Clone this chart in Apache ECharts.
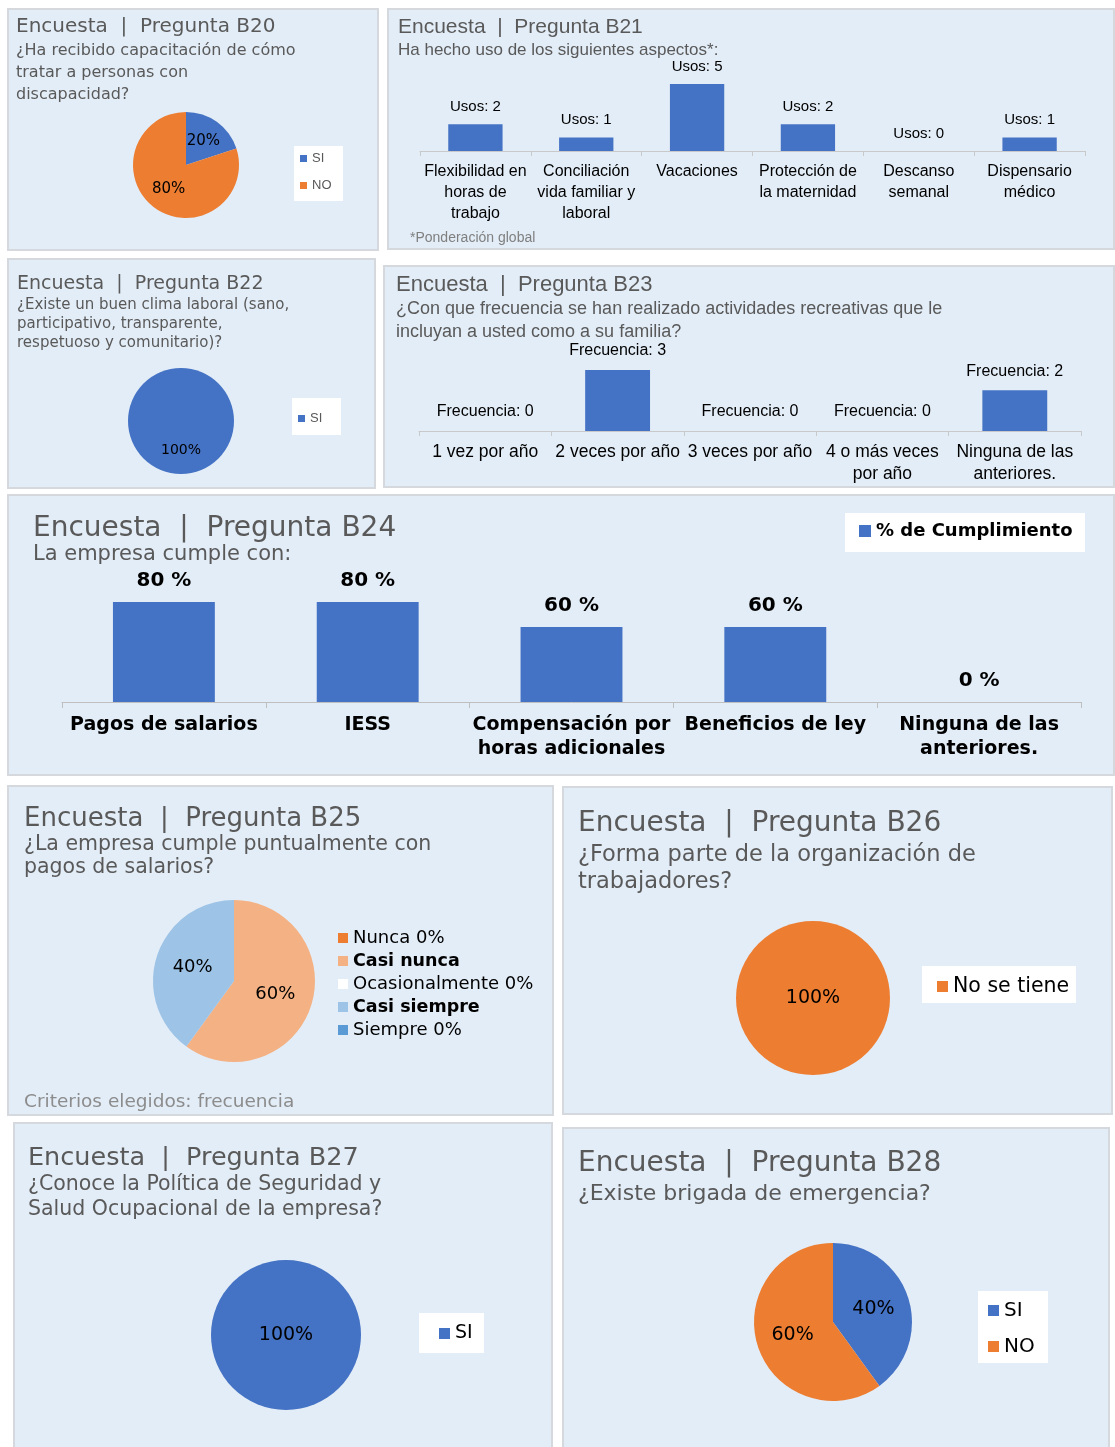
<!DOCTYPE html>
<html>
<head>
<meta charset="utf-8">
<script src="https://cdn.jsdelivr.net/npm/echarts@6/dist/echarts.min.js"></script>
<style>
  html, body { margin: 0; padding: 0; background: #ffffff; }
  body { width: 1115px; height: 1447px; position: relative; overflow: hidden; }
  .panel { position: absolute; box-sizing: border-box; border: 2px solid #d5d8dc; background: #e3edf7; }
</style>
</head>
<body>
<div id="b20" class="panel" style="left:7px;top:8px;width:372px;height:243px"></div>
<div id="b21" class="panel" style="left:387px;top:8px;width:728px;height:242px"></div>
<div id="b22" class="panel" style="left:7px;top:258px;width:369px;height:231px"></div>
<div id="b23" class="panel" style="left:383px;top:265px;width:732px;height:223px"></div>
<div id="b24" class="panel" style="left:7px;top:494px;width:1108px;height:282px"></div>
<div id="b25" class="panel" style="left:7px;top:785px;width:547px;height:331px"></div>
<div id="b26" class="panel" style="left:562px;top:786px;width:551px;height:329px"></div>
<div id="b27" class="panel" style="left:13px;top:1122px;width:540px;height:327px"></div>
<div id="b28" class="panel" style="left:562px;top:1127px;width:548px;height:322px"></div>
<script>
// ---------------- DATA ----------------
const b20Cats = ['SI', 'NO'];
const b20Vals = [20, 80];

const b21Cats = ['Flexibilidad en\nhoras de\ntrabajo', 'Conciliación\nvida familiar y\nlaboral', 'Vacaciones', 'Protección de\nla maternidad', 'Descanso\nsemanal', 'Dispensario\nmédico'];
const b21Vals = [2, 1, 5, 2, 0, 1];

const b22Cats = ['SI'];
const b22Vals = [100];

const b23Cats = ['1 vez por año', '2 veces por año', '3 veces por año', '4 o más veces\npor año', 'Ninguna de las\nanteriores.'];
const b23Vals = [0, 3, 0, 0, 2];

const b24Cats = ['Pagos de salarios', 'IESS', 'Compensación por\nhoras adicionales', 'Beneficios de ley', 'Ninguna de las\nanteriores.'];
const b24Vals = [80, 80, 60, 60, 0];
const b24SeriesName = '% de Cumplimiento';

const b25Cats = ['Nunca', 'Casi nunca', 'Ocasionalmente', 'Casi siempre', 'Siempre'];
const b25Vals = [0, 60, 0, 40, 0];

const b26Cats = ['No se tiene'];
const b26Vals = [100];

const b27Cats = ['SI'];
const b27Vals = [100];

const b28Cats = ['SI', 'NO'];
const b28Vals = [40, 60];

// ---------------- STYLE ----------------
const BLUE = '#4472c4', ORANGE = '#ed7d31';
const GEO = '"DejaVu Sans", sans-serif';
const NAR = '"Liberation Sans", Arial, sans-serif';
const GRAY = '#595959';

// cy = vertical centre of the first line
function txt(text, left, cy, size, lh, font, color, weight) {
  return {
    text: text, left: left, top: cy - lh / 2, padding: 0,
    textStyle: { fontFamily: font, fontSize: size, lineHeight: lh, color: color || GRAY, fontWeight: weight || 'normal' }
  };
}
function box(left, top, w, h) {
  return { type: 'rect', left: left, top: top, shape: { width: w, height: h }, style: { fill: '#ffffff' }, z: -1 };
}
function pieSeries(cats, vals, colors, cx, cy, r, font, fsize, pos) {
  return {
    type: 'pie', center: [cx, cy], radius: r, startAngle: 90, clockwise: true,
    animation: false, silent: true,
    data: cats.map((c, i) => ({ name: c, value: vals[i], itemStyle: { color: colors[i] } })),
    label: {
      show: true, position: pos || 'inside', color: '#000', fontFamily: font, fontSize: fsize,
      formatter: p => p.value === 0 ? '' : p.percent + '%'
    },
    labelLine: { show: false },
    itemStyle: { borderWidth: 0 }
  };
}
function mk(id, opt) {
  const el = document.getElementById(id);
  const c = echarts.init(el, null, { renderer: 'canvas' });
  opt.animation = false;
  c.setOption(opt);
  return c;
}

// ---------------- B20 ----------------
mk('b20', {
  title: [
    txt('Encuesta  |  Pregunta B20', 7, 17, 20, 24, GEO),
    txt('¿Ha recibido capacitación de cómo\ntratar a personas con\ndiscapacidad?', 7, 41, 16, 22, GEO)
  ],
  graphic: [box(285, 136, 49, 55)],
  legend: {
    orient: 'vertical', left: 291, top: 142, itemWidth: 7, itemHeight: 7, itemGap: 14,
    icon: 'rect', textStyle: { fontFamily: NAR, fontSize: 13, color: GRAY }, data: b20Cats, padding: 0
  },
  series: [pieSeries(b20Cats, b20Vals, [BLUE, ORANGE], 177, 155, 53, GEO, 15)]
});

// ---------------- B21 ----------------
mk('b21', {
  title: [
    txt('Encuesta  |  Pregunta B21', 9, 17, 21, 24, NAR),
    txt('Ha hecho uso de los siguientes aspectos*:', 9, 40, 17, 20, NAR),
    txt('*Ponderación global', 21, 228, 14, 18, NAR, '#7f7f7f')
  ],
  grid: { left: 31, top: 74, width: 665, height: 67 },
  xAxis: {
    type: 'category', data: b21Cats,
    axisLine: { lineStyle: { color: '#c9c9c9', width: 1 } },
    axisTick: { show: true, length: 5, lineStyle: { color: '#c9c9c9' } },
    axisLabel: { interval: 0, margin: 10, fontFamily: NAR, fontSize: 16, lineHeight: 21, color: '#000' }
  },
  yAxis: { type: 'value', min: 0, max: 5, show: false, splitLine: { show: false } },
  series: [{
    type: 'bar', data: b21Vals, barWidth: '49%', itemStyle: { color: BLUE },
    label: { show: true, position: 'top', distance: 10, formatter: 'Usos: {c}', fontFamily: NAR, fontSize: 15, color: '#000' }
  }]
});

// ---------------- B22 ----------------
mk('b22', {
  title: [
    txt('Encuesta  |  Pregunta B22', 8, 24, 19, 24, GEO),
    txt('¿Existe un buen clima laboral (sano,\nparticipativo, transparente,\nrespetuoso y comunitario)?', 8, 45, 15, 19, GEO)
  ],
  graphic: [box(283, 138, 49, 37)],
  legend: {
    orient: 'vertical', left: 289, top: 152, itemWidth: 7, itemHeight: 7,
    icon: 'rect', textStyle: { fontFamily: NAR, fontSize: 13, color: GRAY }, data: b22Cats, padding: 0
  },
  series: [pieSeries(b22Cats, b22Vals, [BLUE], 172, 161, 53, GEO, 14)]
});

// ---------------- B23 ----------------
mk('b23', {
  title: [
    txt('Encuesta  |  Pregunta B23', 11, 18, 22, 24, NAR),
    txt('¿Con que frecuencia se han realizado actividades recreativas que le\nincluyan a usted como a su familia?', 11, 42, 18, 23, NAR)
  ],
  grid: { left: 34, top: 103, width: 662, height: 61 },
  xAxis: {
    type: 'category', data: b23Cats,
    axisLine: { lineStyle: { color: '#c9c9c9', width: 1 } },
    axisTick: { show: true, length: 5, lineStyle: { color: '#c9c9c9' } },
    axisLabel: { interval: 0, margin: 10, fontFamily: NAR, fontSize: 17.5, lineHeight: 22, color: '#000' }
  },
  yAxis: { type: 'value', min: 0, max: 3, show: false, splitLine: { show: false } },
  series: [{
    type: 'bar', data: b23Vals, barWidth: '49%', itemStyle: { color: BLUE },
    label: { show: true, position: 'top', distance: 11, formatter: 'Frecuencia: {c}', fontFamily: NAR, fontSize: 16, color: '#000' }
  }]
});

// ---------------- B24 ----------------
mk('b24', {
  title: [
    txt('Encuesta  |  Pregunta B24', 24, 33, 28, 32, GEO),
    txt('La empresa cumple con:', 24, 59, 21, 24, GEO)
  ],
  graphic: [box(836, 17, 240, 39)],
  legend: {
    left: 850, top: 26, itemWidth: 12, itemHeight: 12, icon: 'rect', padding: 0,
    textStyle: { fontFamily: GEO, fontSize: 18, color: '#000', fontWeight: 'bold' },
    data: [b24SeriesName]
  },
  grid: { left: 53, top: 81, width: 1019, height: 125 },
  xAxis: {
    type: 'category', data: b24Cats,
    axisLine: { lineStyle: { color: '#bfbfbf', width: 1 } },
    axisTick: { show: true, length: 6, lineStyle: { color: '#bfbfbf' } },
    axisLabel: { interval: 0, margin: 11, fontFamily: GEO, fontSize: 19, lineHeight: 24, color: '#000', fontWeight: 'bold' }
  },
  yAxis: { type: 'value', min: 0, max: 100, show: false, splitLine: { show: false } },
  series: [{
    name: b24SeriesName, type: 'bar', data: b24Vals, barWidth: '50%', itemStyle: { color: BLUE },
    label: { show: true, position: 'top', distance: 11, formatter: '{c} %', fontFamily: GEO, fontSize: 20, color: '#000', fontWeight: 'bold' }
  }]
});

// ---------------- B25 ----------------
const b25Colors = ['#ed7d31', '#f4b183', '#ffffff', '#9dc3e6', '#5b9bd5'];
mk('b25', {
  title: [
    txt('Encuesta  |  Pregunta B25', 15, 32, 26, 30, GEO),
    txt('¿La empresa cumple puntualmente con\npagos de salarios?', 15, 58, 20.5, 23, GEO),
    txt('Criterios elegidos: frecuencia', 15, 315, 18.5, 22, GEO, '#8c8c8c')
  ],
  legend: {
    orient: 'vertical', left: 329, top: 142, itemWidth: 10, itemHeight: 10, itemGap: 5, icon: 'rect', padding: 0,
    data: b25Cats,
    formatter: function (name) {
      const v = b25Vals[b25Cats.indexOf(name)];
      return v === 0 ? '{n|' + name + ' 0%}' : '{b|' + name + '}';
    },
    textStyle: {
      fontFamily: GEO, fontSize: 18, color: '#000', lineHeight: 18,
      rich: { n: { fontFamily: GEO, fontSize: 18, color: '#000', lineHeight: 18 }, b: { fontFamily: GEO, fontSize: 17.5, color: '#000', fontWeight: 'bold', lineHeight: 18 } }
    }
  },
  series: [pieSeries(b25Cats, b25Vals, b25Colors, 225, 194, 81, GEO, 18)]
});

// ---------------- B26 ----------------
mk('b26', {
  title: [
    txt('Encuesta  |  Pregunta B26', 14, 36, 28, 32, GEO),
    txt('¿Forma parte de la organización de\ntrabajadores?', 14, 67, 22.5, 27, GEO)
  ],
  graphic: [box(358, 178, 154, 37)],
  legend: {
    left: 373, top: 188, itemWidth: 11, itemHeight: 11, icon: 'rect', padding: 0,
    textStyle: { fontFamily: GEO, fontSize: 20.5, color: '#000' }, data: b26Cats
  },
  series: [pieSeries(b26Cats, b26Vals, [ORANGE], 249, 210, 77, GEO, 19, 'center')]
});

// ---------------- B27 ----------------
mk('b27', {
  title: [
    txt('Encuesta  |  Pregunta B27', 13, 34, 25.5, 30, GEO),
    txt('¿Conoce la Política de Seguridad y\nSalud Ocupacional de la empresa?', 13, 61, 20.5, 25, GEO)
  ],
  graphic: [box(404, 189, 65, 40)],
  legend: {
    left: 424, top: 200, itemWidth: 11, itemHeight: 11, icon: 'rect', padding: 0,
    textStyle: { fontFamily: GEO, fontSize: 19, color: '#000' }, data: b27Cats
  },
  series: [pieSeries(b27Cats, b27Vals, [BLUE], 271, 211, 75, GEO, 19, 'center')]
});

// ---------------- B28 ----------------
mk('b28', {
  title: [
    txt('Encuesta  |  Pregunta B28', 14, 35, 28, 32, GEO),
    txt('¿Existe brigada de emergencia?', 14, 65, 22, 26, GEO)
  ],
  graphic: [box(414, 162, 70, 72)],
  legend: {
    orient: 'vertical', left: 424, top: 171, itemWidth: 11, itemHeight: 11, itemGap: 15, icon: 'rect', padding: 0,
    textStyle: { fontFamily: GEO, fontSize: 20, color: '#000', lineHeight: 21 }, data: b28Cats
  },
  series: [pieSeries(b28Cats, b28Vals, [BLUE, ORANGE], 269, 193, 79, GEO, 19)]
});
</script>
</body>
</html>
